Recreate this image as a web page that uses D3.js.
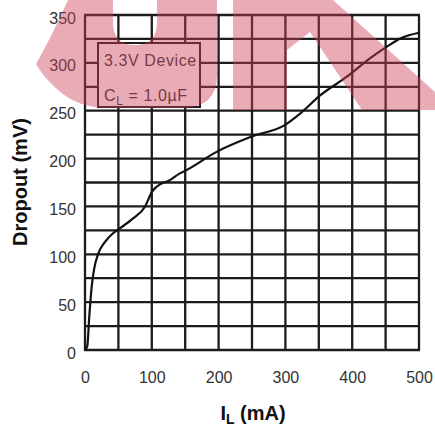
<!DOCTYPE html>
<html>
<head>
<meta charset="utf-8">
<script src="https://cdn.jsdelivr.net/npm/d3@7"></script>
<style>
  html, body { margin: 0; padding: 0; background: #fff; }
  svg { display: block; }
  text { font-family: Arial, "Liberation Sans", Helvetica, sans-serif; }
</style>
</head>
<body>
<svg id="chart" width="435" height="428"></svg>
<script>
// ---- data ----
const currentMA = [0, 3.4, 6.4, 10, 13.5, 20, 30, 42, 52, 72, 90, 100, 107, 127, 142, 152, 197, 249.5, 299, 322, 352, 392, 427, 452, 472, 500];
const dropoutMV = [0, 4, 35, 66, 84, 101, 113, 122, 127, 137.5, 150, 165, 170.5, 177.5, 184.5, 188, 207, 223, 235, 247, 266, 285.5, 305, 317, 325.5, 331.5];
const xTickValues = [0, 100, 200, 300, 400, 500];
const yTickValues = [0, 50, 100, 150, 200, 250, 300, 350];
const xGridValues = d3.range(0, 501, 50);
const yGridValues = d3.range(0, 351, 25);
const legendLines = ["3.3V Device", "C_L = 1.0µF"];
const xTitle = "I_L (mA)";
const yTitle = "Dropout (mV)";

// ---- layout ----
const svg = d3.select("#chart");
const plotLeft = 85, plotRight = 419, plotTop = 15, plotBottom = 350;
const x = d3.scaleLinear().domain([0, 500]).range([plotLeft, plotRight]);
const y = d3.scaleLinear().domain([0, 350]).range([plotBottom, plotTop]);
const ink = "#1c1c1c";

// grid
const g = svg.append("g");
g.selectAll("line.vg").data(xGridValues).join("line")
  .attr("x1", d => x(d)).attr("x2", d => x(d))
  .attr("y1", plotTop).attr("y2", plotBottom)
  .attr("stroke", ink).attr("stroke-width", 2.3);
g.selectAll("line.hg").data(yGridValues).join("line")
  .attr("y1", d => y(d)).attr("y2", d => y(d))
  .attr("x1", plotLeft - 1).attr("x2", plotRight + 1)
  .attr("stroke", ink).attr("stroke-width", 2.3);

// axes (labels only)
const xAxis = d3.axisBottom(x).tickValues(xTickValues).tickSize(0).tickPadding(0);
const xa = svg.append("g").attr("transform", `translate(0,${plotBottom})`).call(xAxis);
xa.select(".domain").remove();
xa.selectAll("text").attr("font-size", 16).attr("fill", "#333")
  .attr("dy", null).attr("y", 33);

const yAxis = d3.axisLeft(y).tickValues(yTickValues).tickSize(0).tickPadding(0);
const ya = svg.append("g").attr("transform", `translate(76,0)`).call(yAxis);
ya.select(".domain").remove();
ya.selectAll("text").attr("font-size", 16).attr("fill", "#333")
  .attr("dy", "0.32em").attr("y", 3).attr("x", 0);

// curve
const pts = currentMA.map((c, i) => [c, dropoutMV[i]]);
svg.append("path").datum(pts)
  .attr("fill", "none").attr("stroke", "#111").attr("stroke-width", 2.2)
  .attr("d", d3.line().x(d => x(d[0])).y(d => y(d[1])).curve(d3.curveMonotoneX));

// legend box
const lg = svg.append("g");
lg.append("rect").attr("x", 98).attr("y", 43).attr("width", 102).attr("height", 64)
  .attr("fill", "#fff").attr("stroke", ink).attr("stroke-width", 2);
function richText(sel, str, subSize) {
  const parts = str.split("_");
  sel.append("tspan").text(parts[0]);
  if (parts.length > 1) {
    const rest = parts[1];
    sel.append("tspan").attr("font-size", subSize).attr("dy", 4).text(rest[0]);
    sel.append("tspan").attr("dy", -4).text(rest.slice(1));
  }
}
legendLines.forEach((t, i) => {
  const tx = lg.append("text").attr("x", 104).attr("y", 65.5 + i * 35)
    .attr("font-size", 16).attr("letter-spacing", 0.6).attr("fill", "#333");
  richText(tx, t, 12);
});

// titles
const xt = svg.append("text").attr("x", 253).attr("y", 419.5).attr("text-anchor", "middle")
  .attr("font-size", 20).attr("font-weight", "bold").attr("fill", "#111");
richText(xt, xTitle, 14);
svg.append("text").attr("transform", "translate(27,182) rotate(-90)")
  .attr("text-anchor", "middle").attr("font-size", 20).attr("font-weight", "bold")
  .attr("fill", "#111").text(yTitle);

// decorative watermark overlay (as in the source image)
const wm = svg.append("g").attr("fill", "rgba(205,65,90,0.44)");
wm.append("path").attr("d",
  "M68,0 L113,0 L113,22 Q113,45 135,45 Q157,45 157,22 L157,0 L217,0 L217,75 Q217,108 182,108 L108,108 Q78,108 58,90 Q44,78 36,64 Q52,36 68,0 Z");
wm.append("path").attr("d",
  "M233,0 L333,0 L435,92 L435,110 L362,110 L310,32 L287,50 L287,110 L233,110 Z");
</script>
</body>
</html>
